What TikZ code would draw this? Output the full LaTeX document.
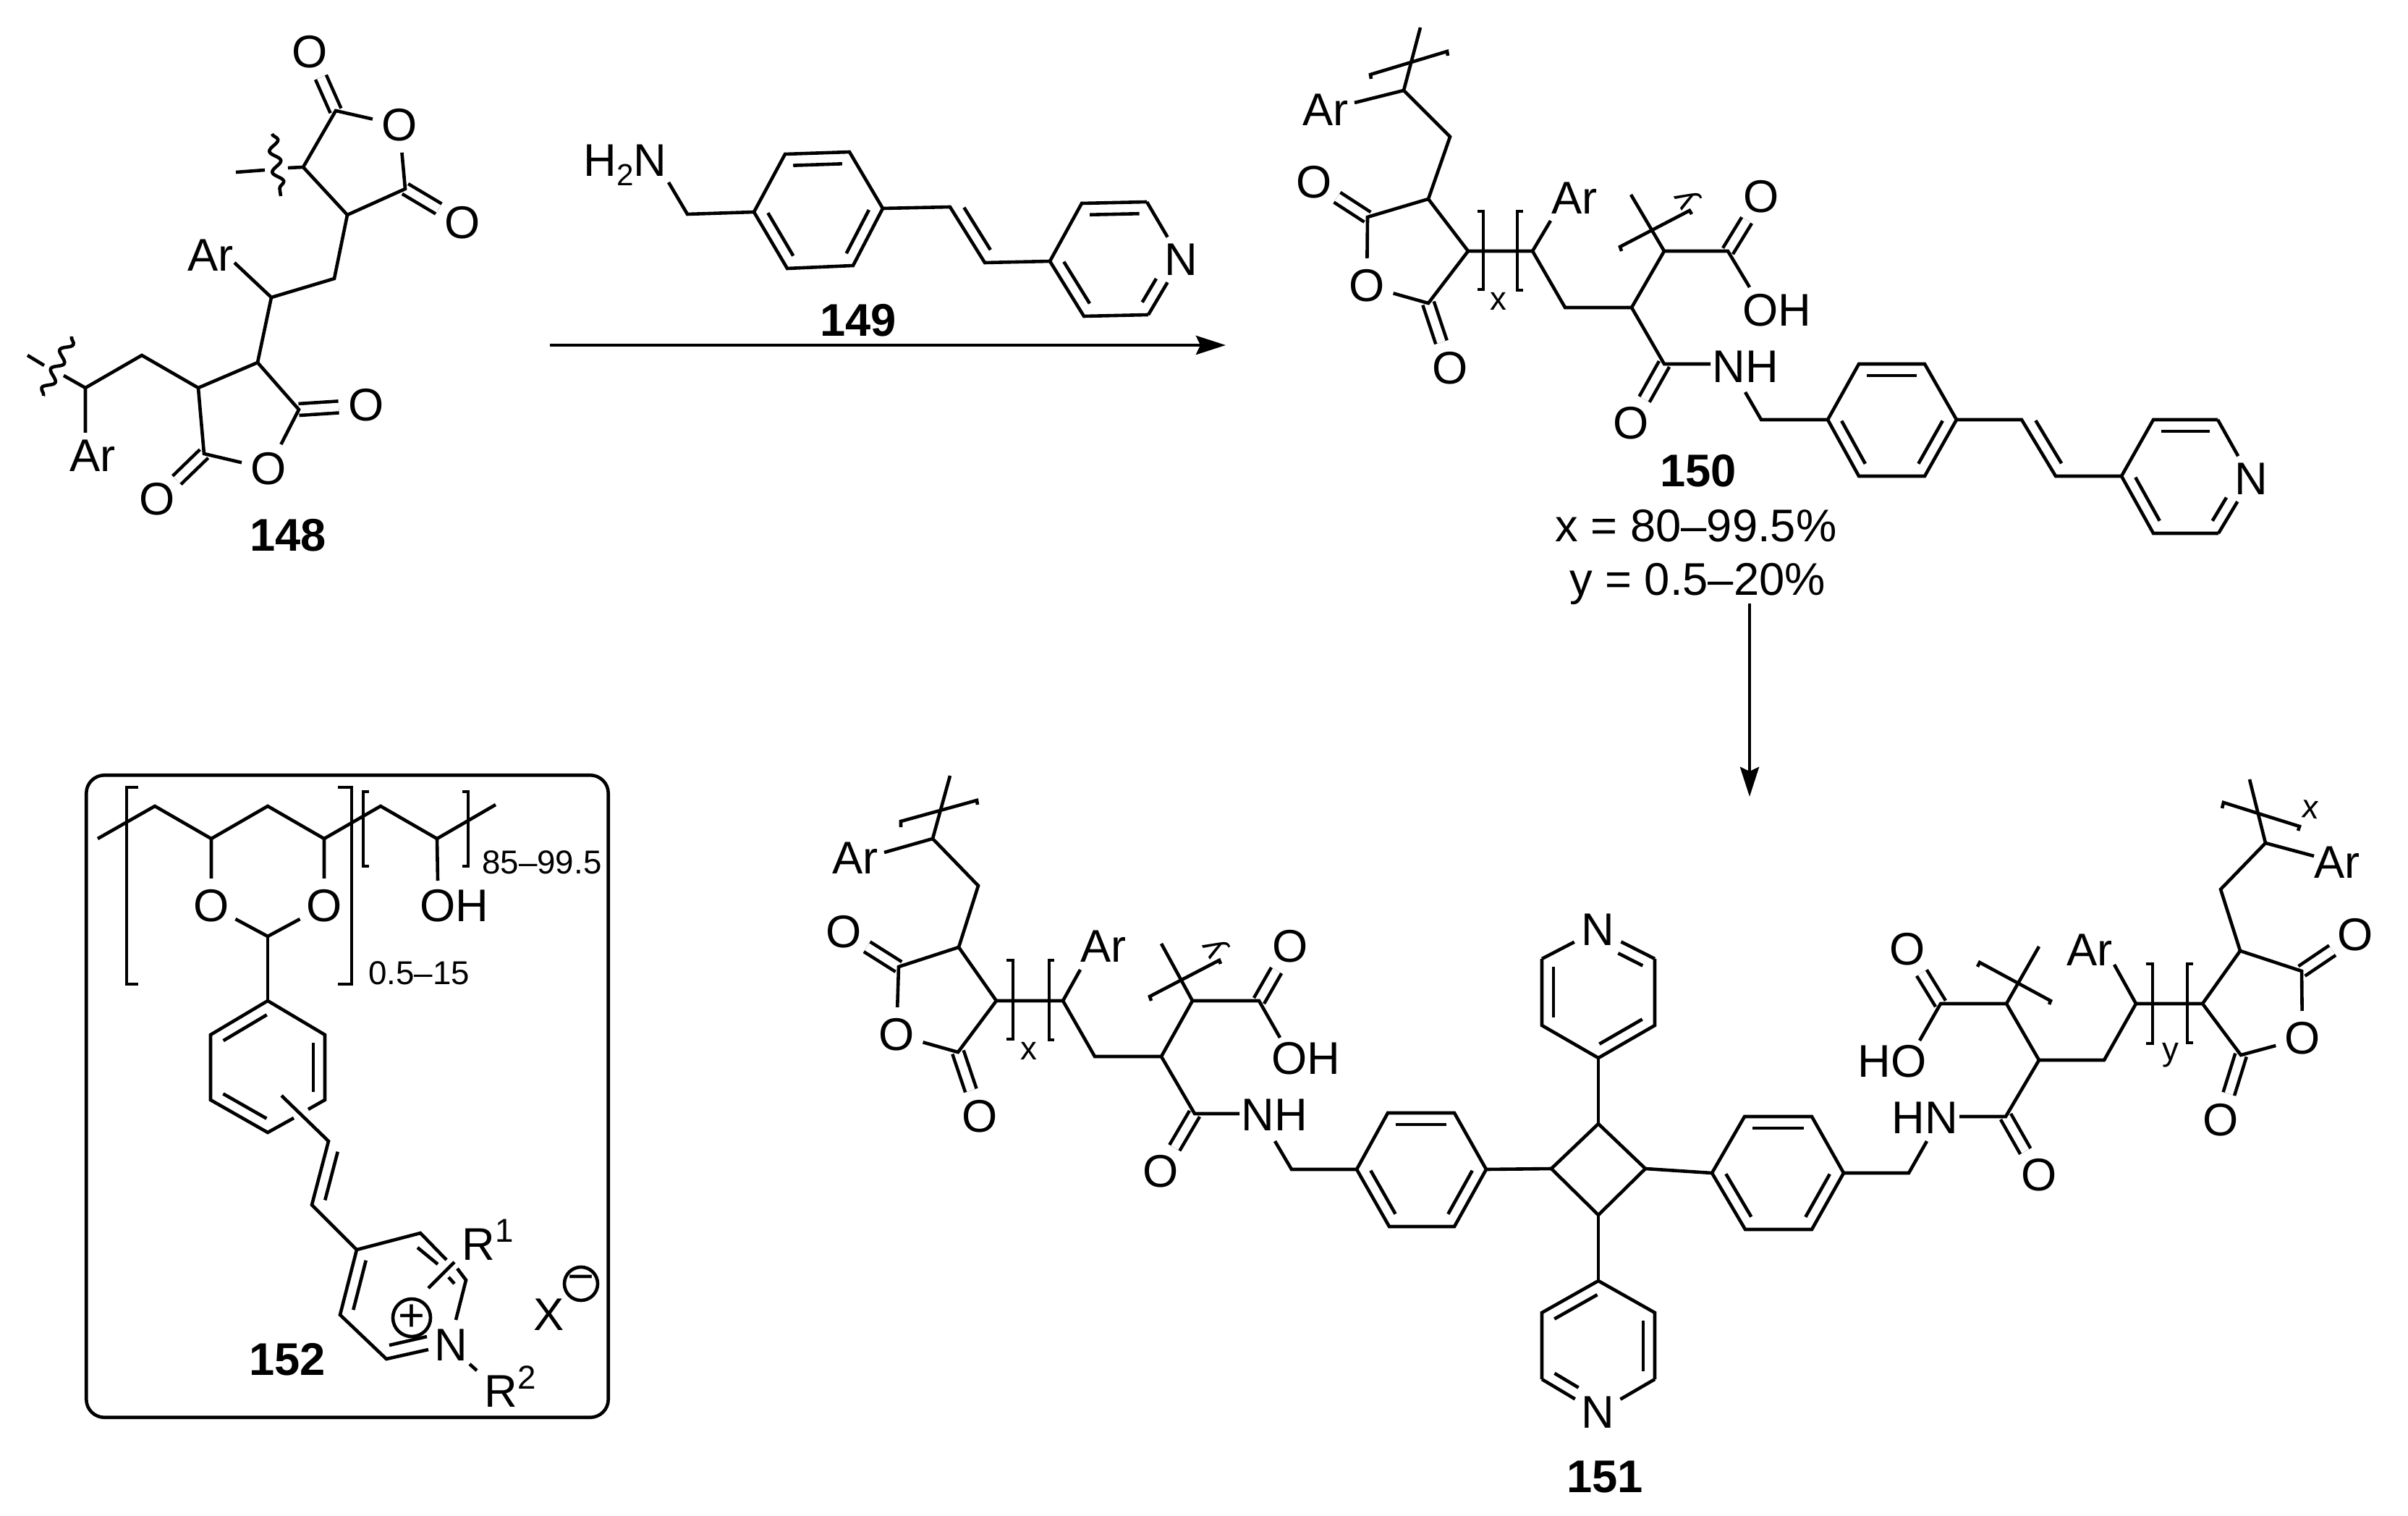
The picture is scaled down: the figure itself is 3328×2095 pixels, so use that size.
\documentclass[tikz,border=0pt]{standalone}
\usepackage{fontspec}
\setmainfont{Liberation Sans}
\usetikzlibrary{calc,arrows.meta,decorations.pathmorphing}

% second stroke of a double bond, on the left of a -> b
\newcommand{\inbond}[3][.12]{\draw ($(#2)!.12!(#3)!1.6mm!90:(#3)$) -- ($(#3)!#1!(#2)!1.6mm!-90:(#2)$);}
\newcommand{\lowtxt}[1]{\raisebox{-.2em}{\fontsize{12}{12}\selectfont #1}}
\newcommand{\uptxt}[1]{\raisebox{.38em}{\fontsize{13}{13}\selectfont #1}}

\tikzset{
  atom/.style={circle,inner sep=.5pt},
  cpd/.style={font=\fontsize{18}{20}\selectfont\bfseries},
  subtxt/.style={font=\fontsize{13}{15}\selectfont},
  dbl/.style={double,double distance=.115cm},
  wavy/.style={decorate,decoration={snake,amplitude=.7mm,segment length=2.9mm}},
  rxn/.style={-{Stealth[length=4.1mm,width=2.6mm,inset=.6mm]}},
  charge/.style={circle,draw,inner sep=0pt,minimum size=.46cm}
}

\begin{document}
\begin{tikzpicture}[x=.01cm,y=-.01cm,line width=.046cm,line join=miter,
    every node/.style={font=\fontsize{18}{20}\selectfont,inner sep=0pt}]
    \path[use as bounding box,fill=white] (0,0) rectangle (3328,2095);

    % Bond ends
    \foreach \n/\x/\y in {
      a1/464/153,a2/560/261,a3/480/297,a4/419/231,a5/462/385,a6/375/411,a7/356/501,a8/274/536,
      a9/413/566,a10/282/627,a11/196/491,a12/118/536,a13/398/232,a14/366/235,a15/326/238,
      a16/88/519,a17/61/505,a18/38/491,a19/324/363,a20/118/598,a21/376/185,a22/388/271,a23/99/465,a24/60/547,
      b1/950/296,b2/924/252,b3/1042/293,b4/1085/213,b5/1174/210,b6/1220/288,b7/1179/367,b8/1088/371,
      b9/1313/286,b10/1361/363,b11/1451/361,b12/1495/281,b13/1585/279,b14/1587/435,b15/1498/437,
      c1/1940/125,c2/1963/38,c3/1872/142,c4/2004/189,c5/1974/275,c6/1890/300,c7/1974/419,c8/2029/347,
      c9/2118/347,c10/2143/305,c11/2163/425,c12/2255/425,c13/2300/347,c14/2254/269,c15/2388/347,
      c16/2418/397,c17/2300/503,c18/2364/503,c19/2412/542,c20/2434/580,c21/2526/580,c22/2569/503,
      c23/2660/503,c24/2704/580,c25/2660/658,c26/2569/658,c27/2794/580,c28/2841/658,c29/2932/658,
      c30/2976/580,c31/3065/580,c32/3066/737,c33/2976/737,
      d1/1289/1159,d2/1313/1072,d3/1222/1178,d4/1352/1224,d5/1325/1309,d6/1242/1336,d7/1324/1454,
      d8/1377/1383,d9/1469/1383,d10/1493/1340,d11/1513/1460,d12/1605/1460,d13/1648/1383,d14/1605/1304,
      d15/1740/1383,d16/1769/1434,d17/1651/1539,d18/1713/1539,d19/1762/1577,d20/1785/1616,
      d21/1875/1616,d22/1918/1538,d23/2010/1538,d24/2054/1616,d25/2010/1695,d26/1920/1695,
      d27/2144/1615,d28/2209/1553,d29/2274/1615,d30/2209/1679,
      d31/2209/1462,d32/2287/1417,d33/2287/1325,d34/2131/1325,d35/2131/1417,
      d36/2209/1770,d37/2131/1814,d38/2287/1814,d39/2131/1906,d40/2287/1906,
      d41/2366/1621,d42/2411/1543,d43/2504/1543,d44/2548/1621,d45/2504/1699,d46/2412/1699,
      d47/2638/1621,d48/2663/1577,d49/2708/1543,d50/2772/1543,d51/2818/1465,d52/2773/1387,d53/2682/1387,
      d54/2653/1438,d55/2818/1308,d56/2908/1465,d57/2952/1387,d58/2922/1333,d59/3044/1387,d60/3096/1314,
      d61/3181/1342,d62/3097/1458,d63/3069/1229,d64/3131/1165,d65/3109/1077,d66/3198/1183,
      e1/135/1159,e2/214/1114,e3/292/1159,e4/370/1114,e5/448/1159,e6/526/1114,e7/604/1159,e8/685/1112,
      e9/605/1217,e10/370/1294,e11/370/1383,e12/449/1430,e13/449/1520,e14/370/1565,e15/291/1520,e16/291/1430,
      e17/389/1514,e18/454/1577,e19/431/1665,e20/493/1727,e21/581/1704,e22/644/1769,e23/630/1824,
      e24/534/1878,e25/470/1817,e26/649/1885,e27/659/1894,e28/426/1533,e29/406/1545,e30/617/1741,e31/632/1753,
      e32/577/1724,e33/605/1747,e34/620/1765,e35/628/1774,e36/592/1865,e37/538/1859,e38/590/1847,
      e39/592/1780,e40/628/1744,
      r1s/760/477,r1e/1694/477,r2s/2418/834,r2e/2418/1101} {
      \coordinate (\n) at (\x,\y);
    }

    % Frame of 152
    \node[draw,rounded corners=.25cm,minimum width=7.21cm,minimum height=8.87cm] (frame) at (480,1515) {};

    % Single letter atoms
    \foreach \n/\t/\x/\y in {
      ao1/O/428/72,ao2/O/552/173,ao3/O/639/308,ao4/O/506/560,ao5/O/371/648,ao6/O/217/690,
      bn/N/1632/359,
      co1/O/1816/252,co2/O/1889/395,co3/O/2004/509,co4/O/2434/272,co5/O/2254/585,cn/N/3111/662,
      do1/O/1166/1288,do2/O/1239/1430,do3/O/1354/1543,do4/O/1783/1308,do5/O/1604/1619,
      dn1/N/2208/1285,dn2/N/2208/1952,
      do6/O/2818/1624,do7/O/2636/1312,do8/O/3255/1292,do9/O/3182/1435,do10/O/3069/1548,
      eo1/O/292/1252,eo2/O/448/1252} {
      \node[atom] (\n) at (\x,\y) {\t};
    }

    % Groups
    \foreach \n/\t/\x/\y in {
      ar1/Ar/291/353,ar2/Ar/128/630,ar3/Ar/1832/152,ar4/Ar/2176/274,coh/OH/2456/429,cnh/NH/2412/507,
      dar1/Ar/1182/1186,dar2/Ar/1525/1308,doh/OH/1805/1463,dnh/NH/1761/1541,
      dar3/Ar/2888/1313,dar4/Ar/3230/1192,dhn/HN/2660/1545,dhoh/HO/2615/1467,
      eoh/OH/628/1252,en/N/623/1859,ex/X/759/1817} {
      \node (\n) at (\x,\y) {\t};
    }
    \node[anchor=base east] (h2n) at (924,244) {H\lowtxt{2}N};
    \node[anchor=base west] (er1) at (636,1741) {R\uptxt{1}};
    \node[anchor=base west] (er2) at (667,1944) {R\uptxt{2}};
    \node[charge] (eplus) at (569,1821) {+};
    \node[charge] (eminus) at (803,1774) {−};

    % Subscripts
    \node[subtxt] (cx) at (2071,416) {x};
    \node[subtxt] (dx1) at (1422,1452) {x};
    \node[subtxt] (dy2) at (3000,1458) {y};
    \node[subtxt,rotate=120] (cy) at (2333,273) {y};
    \node[subtxt,rotate=120] (dy1) at (1681,1308) {y};
    \node[subtxt,rotate=-6] (dx2) at (3193,1119) {x};
    \node[subtxt,anchor=west] (en1) at (664,1192) {85–99.5};
    \node[subtxt,anchor=west] (en2) at (507,1345) {0.5–15};

    % Compound numbers
    \node[cpd] (n148) at (398,740) {148};
    \node[cpd] (n149) at (1186,443) {149};
    \node[cpd] (n150) at (2347,651) {150};
    \node[cpd] (n151) at (2218,2041) {151};
    \node[cpd] (n152) at (397,1879) {152};
    \node[anchor=base] (lx) at (2344,749) {x = 80–99.5\%};
    \node[anchor=base] (ly) at (2346,823) {y = 0.5–20\%};

    % Reaction arrows
    \draw[rxn] (r1s) -- (r1e);
    \draw[rxn] (r2s) -- (r2e);

    % C=O
    \foreach \p/\q in {a1/ao1,a2/ao3,a9/ao4,a10/ao6,c6/co1,c7/co3,c15/co4,c17/co5,
      d6/do1,d7/do3,d15/do4,d17/do5,d50/do6,d53/do7,d61/do8,d62/do10} {
      \draw[dbl] (\p) -- (\q);
    }

    % 148
    \draw (ao2) -- (a1) -- (a4) -- (a3) -- (a2) -- (ao2);
    \draw (a3) -- (a5) -- (a6) -- (a19);
    \draw (a6) -- (a7);
    \draw (a7) -- (a9) -- (ao5) -- (a10) -- (a8) -- (a7);
    \draw (a20) -- (a12) -- (a11) -- (a8);
    \draw (a12) -- (a16);
    \draw (a17) -- (a18);
    \draw (a4) -- (a13);
    \draw (a14) -- (a15);
    \draw[wavy] (a21) -- (a22);
    \draw[wavy] (a23) -- (a24);

    % 149
    \draw (b2) -- (b1) -- (b3);
    \draw (b3) -- (b4) -- (b5) -- (b6) -- (b7) -- (b8) -- cycle;
    \draw (b6) -- (b9) -- (b10) -- (b11);
    \draw (b13) -- (b12) -- (b11) -- (b15) -- (b14);
    \draw (b13) -- (bn);
    \draw (b14) -- (bn);

    % 150
    \draw (c2) -- (c1) -- (c4) -- (c5) -- (c8) -- (c7) -- (co2) -- (c6) -- (c5);
    \draw (c1) -- (c3);
    \draw (c8) -- (c9) -- (c11) -- (c12) -- (c13) -- (c15) -- (c16);
    \draw (c9) -- (c10);
    \draw (c13) -- (c14);
    \draw (c12) -- (c17) -- (c18);
    \draw (c19) -- (c20) -- (c21);
    \draw (c21) -- (c22) -- (c23) -- (c24) -- (c25) -- (c26) -- cycle;
    \draw (c24) -- (c27) -- (c28) -- (c29);
    \draw (c31) -- (c30) -- (c29) -- (c33) -- (c32);
    \draw (c31) -- (cn);
    \draw (c32) -- (cn);

    % 151, left arm
    \draw (d2) -- (d1) -- (d4) -- (d5) -- (d8) -- (d7) -- (do2) -- (d6) -- (d5);
    \draw (d1) -- (d3);
    \draw (d8) -- (d9) -- (d11) -- (d12) -- (d13) -- (d15) -- (d16);
    \draw (d9) -- (d10);
    \draw (d13) -- (d14);
    \draw (d12) -- (d17) -- (d18);
    \draw (d19) -- (d20) -- (d21);
    \draw (d21) -- (d22) -- (d23) -- (d24) -- (d25) -- (d26) -- cycle;

    % 151, centre
    \draw (d24) -- (d27);
    \draw (d27) -- (d28) -- (d29) -- (d30) -- cycle;
    \draw (d29) -- (d41);
    \draw (d28) -- (d31);
    \draw (d30) -- (d36);
    \draw (d33) -- (d32) -- (d31) -- (d35) -- (d34);
    \draw (d33) -- (dn1);
    \draw (d34) -- (dn1);
    \draw (d39) -- (d37) -- (d36) -- (d38) -- (d40);
    \draw (d39) -- (dn2);
    \draw (d40) -- (dn2);

    % 151, right arm
    \draw (d41) -- (d42) -- (d43) -- (d44) -- (d45) -- (d46) -- cycle;
    \draw (d44) -- (d47) -- (d48);
    \draw (d49) -- (d50) -- (d51) -- (d52) -- (d53) -- (d54);
    \draw (d52) -- (d55);
    \draw (d51) -- (d56) -- (d57) -- (d58);
    \draw (d57) -- (d59) -- (d60) -- (d61) -- (do9) -- (d62) -- (d59);
    \draw (d60) -- (d63) -- (d64) -- (d65);
    \draw (d64) -- (d66);

    % 152
    \draw (e1) -- (e2) -- (e3) -- (e4) -- (e5) -- (e6) -- (e7) -- (e8);
    \draw (e3) -- (eo1) -- (e10) -- (eo2) -- (e5);
    \draw (e7) -- (e9);
    \draw (e10) -- (e11);
    \draw (e28) -- (e13) -- (e12) -- (e11) -- (e16) -- (e15) -- (e14) -- (e29);
    \draw (e17) -- (e18) -- (e19) -- (e20) -- (e25) -- (e24) -- (e36);
    \draw (e20) -- (e21) -- (e30);
    \draw (e31) -- (e22) -- (e23);
    \draw (e26) -- (e27);
    \draw (e39) -- (e40);
    \draw (e32) -- (e33);
    \draw (e34) -- (e35);
    \draw (e37) -- (e38);

    % Second strokes of double bonds
    \foreach \p/\q in {b5/b4,b3/b8,b7/b6,b9/b10,b13/b12,b11/b15,
      c23/c22,c21/c26,c25/c24,c27/c28,c31/c30,c29/c33,
      d23/d22,d21/d26,d25/d24,d43/d42,d41/d46,d45/d44,
      d34/d35,d31/d32,d36/d37,d40/d38,
      e11/e16,e15/e14,e13/e12,e18/e19,e20/e25} {
      \inbond{\p}{\q}
    }
    \foreach \p/\q in {b14/bn,c32/cn,d33/dn1,d39/dn2} {
      \inbond[.45]{\p}{\q}
    }

    % Upright brackets: x, tick, top, bottom
    \foreach \x/\t/\u/\v in {2050/-8/292/400,2097/8/292/401,1400/-9/1327/1436,1450/7/1327/1437,
      2975/-9/1332/1442,3023/8/1332/1441,175/16/1088/1360,486/-19/1088/1360,
      502/8/1094/1197,647/-8/1094/1197} {
      \draw ({\x+\t},\u) -- (\x,\u) -- (\x,\v) -- ({\x+\t},\v);
    }

    % Tilted brackets
    \foreach \xa/\ya/\xb/\yb/\xc/\yc/\xd/\yd in {
      1895/109/1894/103/2000/71/2001/77,2241/347/2239/341/2335/291/2338/296,
      1245/1143/1245/1135/1350/1106/1351/1112,1591/1383/1589/1377/1685/1327/1687/1332,
      2733/1336/2736/1330/2834/1383/2832/1388,3071/1117/3073/1109/3178/1142/3176/1148} {
      \draw (\xa,\ya) -- (\xb,\yb) -- (\xc,\yc) -- (\xd,\yd);
    }
  \end{tikzpicture}
\end{document}
